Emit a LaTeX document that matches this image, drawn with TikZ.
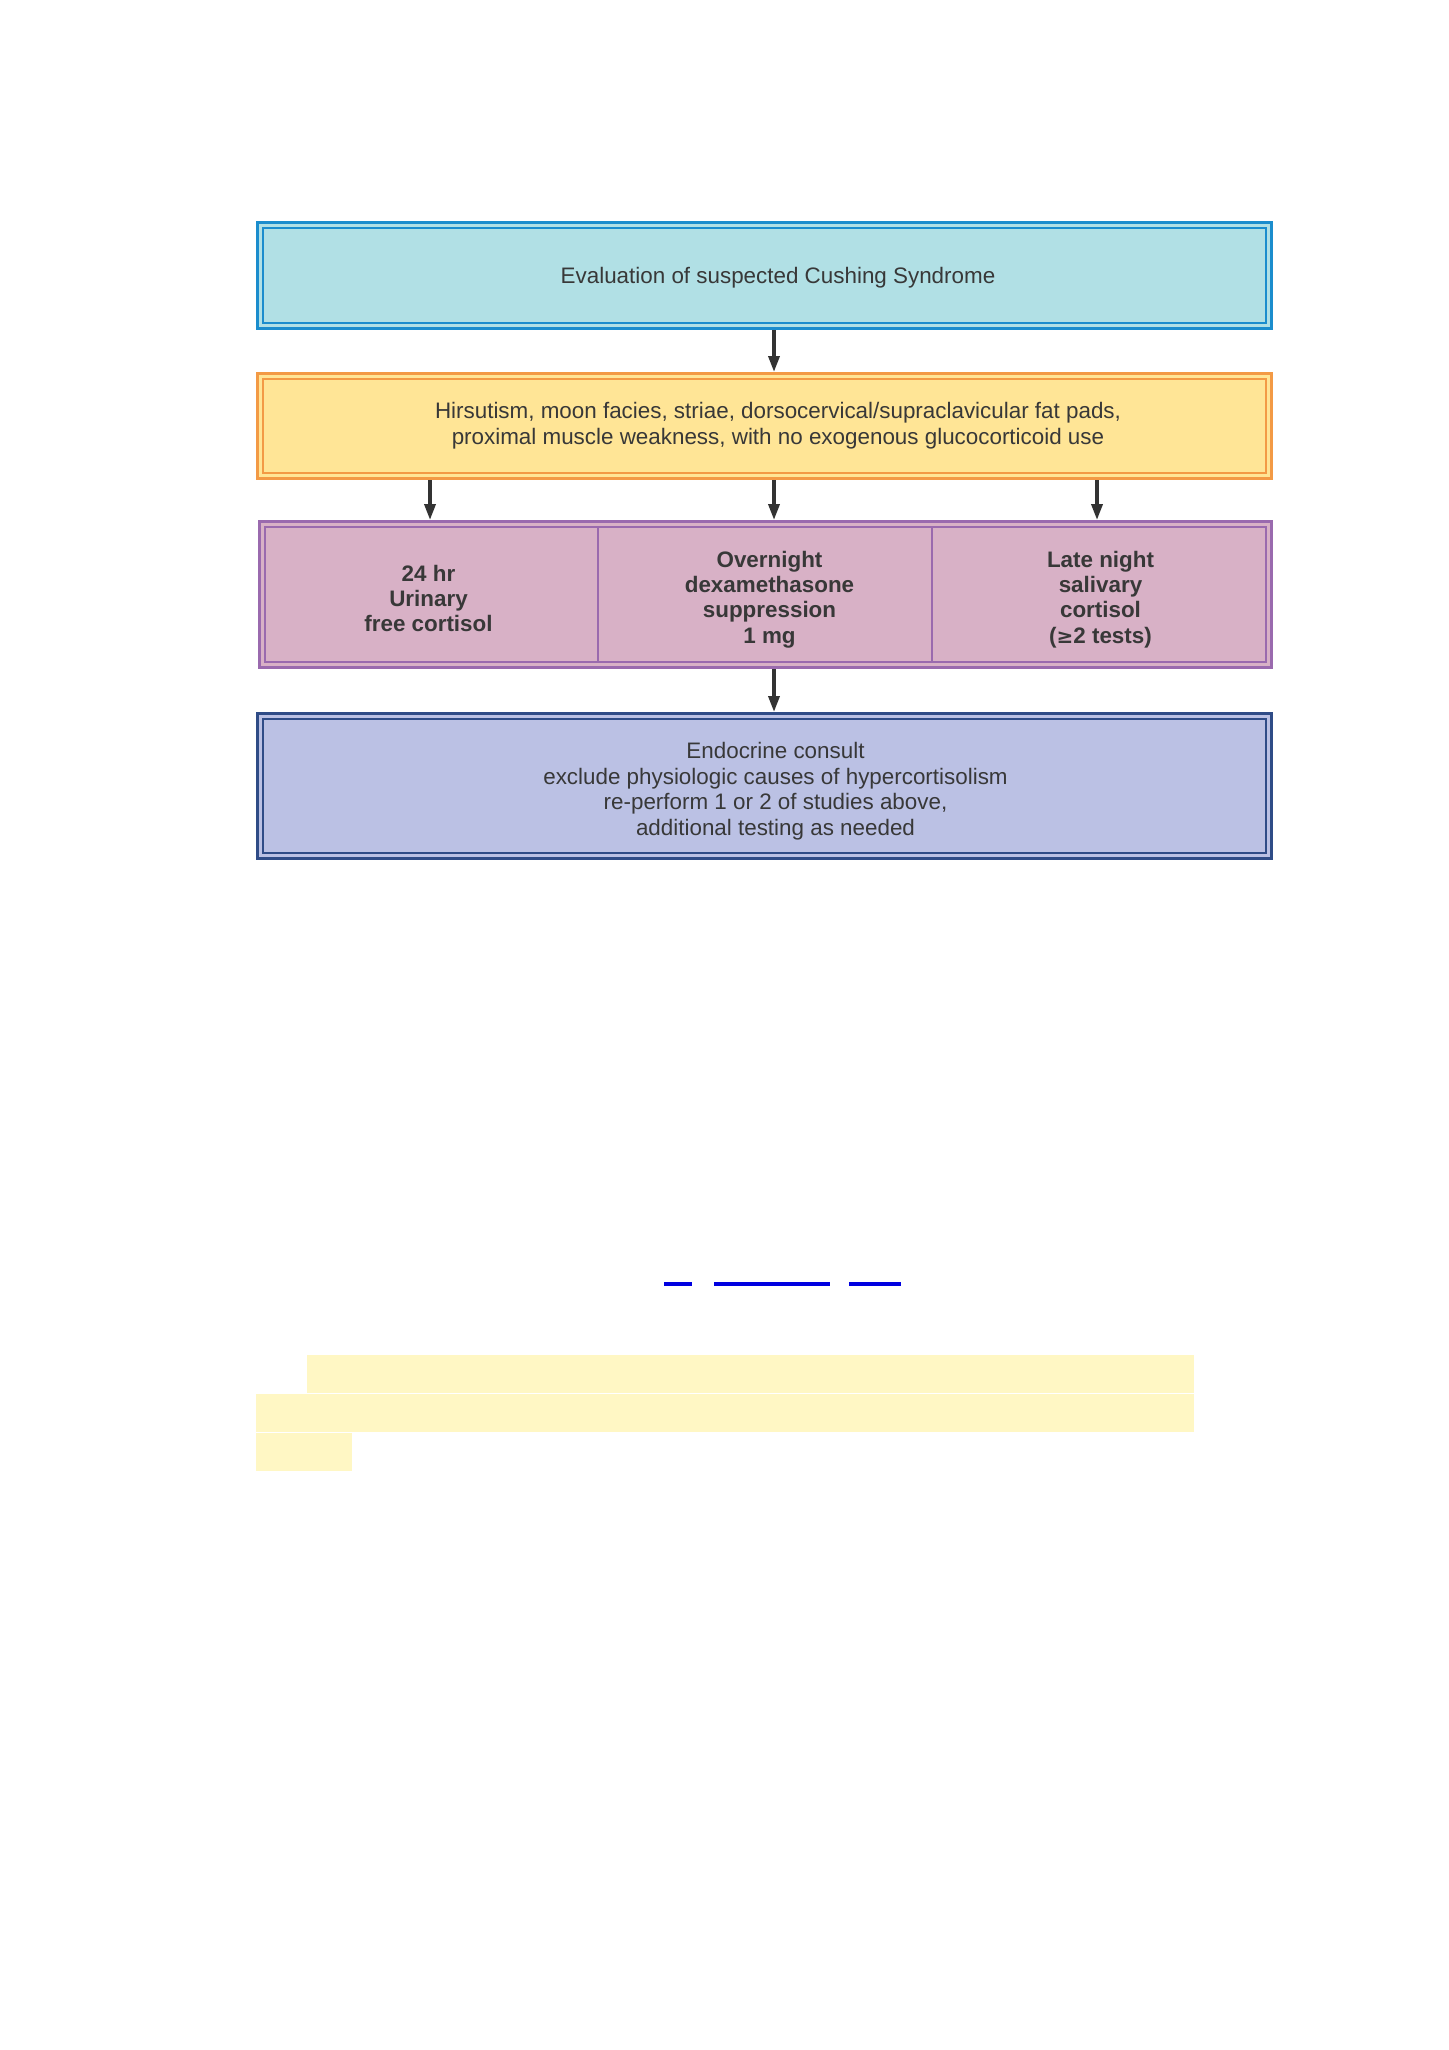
\documentclass[tikz,border=0pt]{standalone}
\usepackage{fontspec}
\setmainfont{Liberation Sans}
\usetikzlibrary{arrows.meta}
\definecolor{evalfill}{HTML}{B1E0E5}
\definecolor{evalline}{HTML}{1B8DCD}
\definecolor{sympfill}{HTML}{FFE596}
\definecolor{sympline}{HTML}{F39A45}
\definecolor{testfill}{HTML}{D8B1C6}
\definecolor{testline}{HTML}{9A6AAE}
\definecolor{endofill}{HTML}{BBC1E4}
\definecolor{endoline}{HTML}{2F4C87}
\definecolor{txtcol}{HTML}{383838}
\definecolor{arrcol}{HTML}{333333}
\definecolor{hilite}{HTML}{FFF7C4}
\definecolor{linkblue}{HTML}{0000E0}
\begin{document}
\begin{tikzpicture}[x=1pt,y=-1pt,
  boxnode/.style={draw, line width=3pt, minimum width=1014pt, inner sep=0pt},
  innerline/.style={line width=1.4pt},
  txt/.style={text=txtcol, align=center, inner sep=0pt, font=\fontsize{22.4}{25.6}\selectfont},
  btxt/.style={txt, font=\fontsize{22.4}{25.3}\selectfont\bfseries},
  arr/.style={draw=arrcol, line width=3.5pt, -{Triangle[length=16pt,width=11pt]}}]
\useasboundingbox[fill=white] (0,0) rectangle (1448,2050);

% boxes
\node[boxnode, draw=evalline, fill=evalfill, minimum height=106pt] (eval) at (764.5,275.5) {};
\node[boxnode, draw=sympline, fill=sympfill, minimum height=105pt] (symp) at (764.5,426) {};
\node[boxnode, draw=testline, fill=testfill, minimum height=146pt, minimum width=1012pt] (tests) at (765.5,594.5) {};
\node[boxnode, draw=endoline, fill=endofill, minimum height=145pt] (endo) at (764.5,786) {};

% inner frames
\foreach \b/\c in {eval/evalline, symp/sympline, tests/testline, endo/endoline}{
  \draw[innerline, draw=\c] ([xshift=7pt,yshift=-7pt]\b.north west) rectangle ([xshift=-7pt,yshift=7pt]\b.south east);
}
% dividers of test box
\draw[innerline, draw=testline] ([xshift=-167.5pt,yshift=-7pt]tests.north) -- ([xshift=-167.5pt,yshift=7pt]tests.south);
\draw[innerline, draw=testline] ([xshift=166.5pt,yshift=-7pt]tests.north) -- ([xshift=166.5pt,yshift=7pt]tests.south);

% texts
\node[txt] (evalT) at ([xshift=13.5pt,yshift=-2.5pt]eval.center) {Evaluation of suspected Cushing Syndrome};
\node[txt] (sympT) at ([xshift=13.5pt,yshift=0.5pt]symp.center) {Hirsutism, moon facies, striae, dorsocervical/supraclavicular fat pads,\\proximal muscle weakness, with no exogenous glucocorticoid use};
\node[btxt] (t1) at ([xshift=-337pt,yshift=-4pt]tests.center) {24 hr\\Urinary\\free cortisol};
\node[btxt] (t2) at ([xshift=4pt,yshift=-5pt]tests.center) {Overnight\\dexamethasone\\suppression\\1 mg};
\node[btxt] (t3) at ([xshift=335pt,yshift=-5pt]tests.center) {Late night\\salivary\\cortisol\\({\fontspec{DejaVu Sans}\fontsize{20}{25}\selectfont ≥}2 tests)};
\node[txt] (endoT) at ([xshift=11pt,yshift=-5pt]endo.center) {Endocrine consult\\exclude physiologic causes of hypercortisolism\\re-perform 1 or 2 of studies above,\\additional testing as needed};

% connectors
\draw[arr] ([xshift=9.5pt]eval.south) -- ([xshift=9.5pt]symp.north);
\draw[arr] ([xshift=-334.5pt]symp.south) -- ([xshift=-335.5pt]tests.north);
\draw[arr] ([xshift=9.5pt]symp.south) -- ([xshift=8.5pt]tests.north);
\draw[arr] ([xshift=332.5pt]symp.south) -- ([xshift=331.5pt]tests.north);
\draw[arr] ([xshift=8.5pt]tests.south) -- ([xshift=9.5pt]endo.north);

% link underlines
\fill[linkblue] (664,1282) rectangle (692,1286);
\fill[linkblue] (714,1282) rectangle (830,1286);
\fill[linkblue] (849,1282) rectangle (901,1286);

% highlight
\fill[hilite] (307,1355) rectangle (1194,1393);
\fill[hilite] (256,1394) rectangle (1194,1432);
\fill[hilite] (256,1433) rectangle (352,1471);
\end{tikzpicture}
\end{document}
